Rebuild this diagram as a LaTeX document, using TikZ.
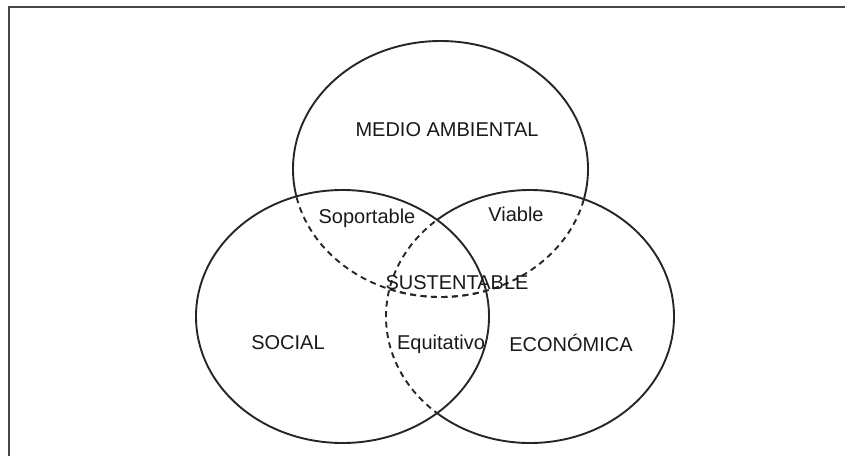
\documentclass[tikz,border=0pt]{standalone}
\usepackage{fontspec}
\setmainfont{Liberation Sans}
\begin{document}
\begin{tikzpicture}[x=1pt,y=-1pt,
  ring/.style={line width=1.9pt, draw=black!85},
  dashring/.style={ring, dash pattern=on 6pt off 4.5pt},
  lbl/.style={font=\fontsize{20}{24}\selectfont, text=black!90, inner sep=0pt},
  frameline/.style={line width=1.6pt, draw=black!72}]
\useasboundingbox (0,0) rectangle (845,456);
\def\TopE{(440.5,169) ellipse [x radius=147.5pt, y radius=128pt]}
\def\LeftE{(342.5,316.5) ellipse [x radius=146.5pt, y radius=126.5pt]}
\def\RightE{(530,316.5) ellipse [x radius=144pt, y radius=126.5pt]}
% frame
\coordinate (fa) at (845,7);
\coordinate (fb) at (9,7);
\coordinate (fc) at (9,456);
\draw[frameline] (fa) -- (fb) -- (fc);
% left ellipse: fully solid
\draw[ring] \LeftE;
% right ellipse: solid outside left, dashed inside left
\begin{scope}[even odd rule]
  \clip (-10,-10) rectangle (860,470) \LeftE;
  \draw[ring] \RightE;
\end{scope}
\begin{scope}
  \clip \LeftE;
  \draw[dashring] \RightE;
\end{scope}
% top ellipse: solid outside left and right, dashed inside
\begin{scope}[even odd rule]
  \clip (-10,-10) rectangle (860,470) \LeftE;
  \begin{scope}[even odd rule]
    \clip (-10,-10) rectangle (860,470) \RightE;
    \draw[ring] \TopE;
  \end{scope}
\end{scope}
\begin{scope}
  \clip \LeftE;
  \draw[dashring] \TopE;
\end{scope}
\begin{scope}
  \clip \RightE;
  \draw[dashring] \TopE;
\end{scope}
% labels
\node[lbl] (medio) at (447,130) {MEDIO AMBIENTAL};
\node[lbl] (soport) at (367,218) {Soportable};
\node[lbl] (viable) at (516,214) {Viable};
\node[lbl] (sust) at (457,283) {SUSTENTABLE};
\node[lbl] (social) at (288,343) {SOCIAL};
\node[lbl] (equit) at (441,344) {Equitativo};
\node[lbl] (econ) at (571,343) {ECONÓMICA};
\end{tikzpicture}
\end{document}
